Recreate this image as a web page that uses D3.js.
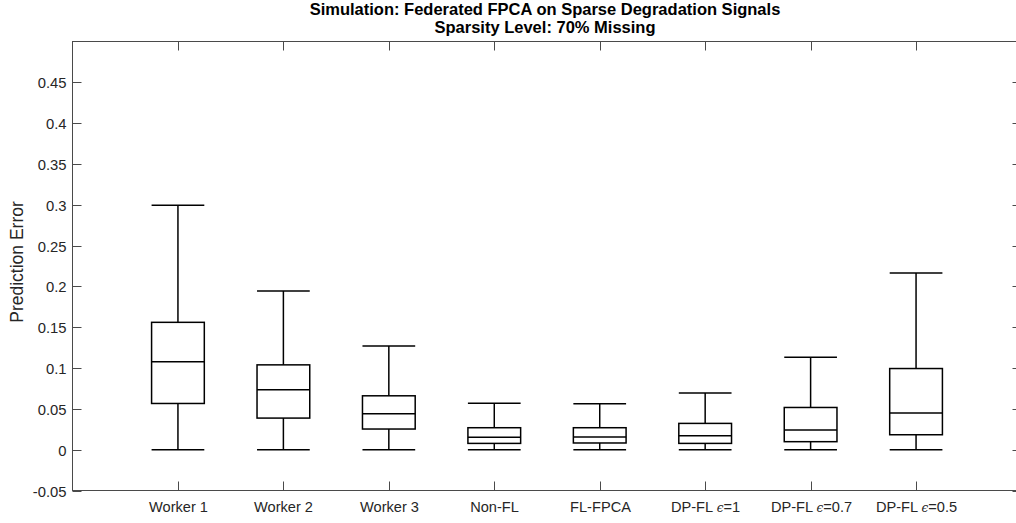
<!DOCTYPE html>
<html>
<head>
<meta charset="utf-8">
<script src="https://cdn.jsdelivr.net/npm/d3@7"></script>
<style>
  html, body { margin: 0; padding: 0; background: #fff; }
  svg { display: block; }
  text { font-family: "Liberation Sans", Arial, Helvetica, sans-serif; fill: #262626; }
</style>
</head>
<body>
<svg id="chart" width="1016" height="523"></svg>
<script>
// ---- data ----
const titleLines = ["Simulation: Federated FPCA on Sparse Degradation Signals", "Sparsity Level: 70% Missing"];
const yLabel = "Prediction Error";
const categories = ["Worker 1", "Worker 2", "Worker 3", "Non-FL", "FL-FPCA", "DP-FL ϵ=1", "DP-FL ϵ=0.7", "DP-FL ϵ=0.5"];
const whiskerLow  = [0, 0, 0, 0, 0, 0, 0, 0];
const q1          = [0.0566, 0.0387, 0.0253, 0.0077, 0.0082, 0.0077, 0.0098, 0.0183];
const median      = [0.1076, 0.0733, 0.0440, 0.0152, 0.0155, 0.0171, 0.0240, 0.0448];
const q3          = [0.1560, 0.1039, 0.0660, 0.0269, 0.0269, 0.0322, 0.0517, 0.0994];
const whiskerHigh = [0.2995, 0.1944, 0.1270, 0.0570, 0.0562, 0.0693, 0.1133, 0.2164];
const yTicks = [-0.05, 0, 0.05, 0.1, 0.15, 0.2, 0.25, 0.3, 0.35, 0.4, 0.45];
const yDomain = [-0.05, 0.5];

(function () {
// ---- layout ----
const svg = d3.select("#chart");
const pL = 72.5, pR = 1021.5, pT = 41.5, pB = 490.5;
const x = d3.scaleLinear().domain([0, categories.length + 1]).range([pL, pR]);
const y = d3.scaleLinear().domain(yDomain).range([pB, pT]);
const boxHalf = (x(1) - x(0)) * 0.25;
const tickLen = 9;
const axisColor = "#4a4a4a";

svg.append("rect").attr("width", 1016).attr("height", 523).attr("fill", "#fff");

// frame
svg.append("rect")
  .attr("x", pL).attr("y", pT)
  .attr("width", pR - pL).attr("height", pB - pT)
  .attr("fill", "none").attr("stroke", axisColor).attr("stroke-width", 1);

// y ticks (left & right)
const g = svg.append("g");
yTicks.forEach(t => {
  const yy = Math.round(y(t)) + 0.5;
  g.append("line").attr("x1", pL).attr("x2", pL + tickLen).attr("y1", yy).attr("y2", yy)
    .attr("stroke", axisColor).attr("stroke-width", 1);
  g.append("line").attr("x1", pR).attr("x2", pR - tickLen).attr("y1", yy).attr("y2", yy)
    .attr("stroke", axisColor).attr("stroke-width", 1);
  g.append("text")
    .attr("x", pL - 6).attr("y", yy).attr("dy", "0.36em")
    .attr("text-anchor", "end").attr("font-size", "14.8px")
    .text(t === 0 ? "0" : String(+t.toFixed(2)));
});

// x ticks (bottom & top)
categories.forEach((c, i) => {
  const xx = Math.round(x(i + 1)) + 0.5;
  g.append("line").attr("x1", xx).attr("x2", xx).attr("y1", pB).attr("y2", pB - tickLen)
    .attr("stroke", axisColor).attr("stroke-width", 1);
  g.append("line").attr("x1", xx).attr("x2", xx).attr("y1", pT).attr("y2", pT + tickLen)
    .attr("stroke", axisColor).attr("stroke-width", 1);
  const txt = g.append("text")
    .attr("x", xx).attr("y", 512)
    .attr("text-anchor", "middle").attr("font-size", "14.6px");
  const parts = c.split("ϵ");
  txt.append("tspan").text(parts[0]);
  if (parts.length > 1) {
    txt.append("tspan").attr("font-family", "'DejaVu Serif', serif").attr("font-style", "italic")
      .attr("font-size", "12px").text("ϵ");
    txt.append("tspan").text(parts[1]);
  }
});

// boxes
const bx = svg.append("g").attr("stroke", "#000").attr("stroke-width", 1.5).attr("fill", "none");
categories.forEach((c, i) => {
  const cx = x(i + 1);
  bx.append("line").attr("x1", cx).attr("x2", cx).attr("y1", y(q3[i])).attr("y2", y(whiskerHigh[i]));
  bx.append("line").attr("x1", cx).attr("x2", cx).attr("y1", y(q1[i])).attr("y2", y(whiskerLow[i]));
  bx.append("line").attr("x1", cx - boxHalf).attr("x2", cx + boxHalf).attr("y1", y(whiskerHigh[i])).attr("y2", y(whiskerHigh[i]));
  bx.append("line").attr("x1", cx - boxHalf).attr("x2", cx + boxHalf).attr("y1", y(whiskerLow[i])).attr("y2", y(whiskerLow[i]));
  bx.append("rect").attr("x", cx - boxHalf).attr("y", y(q3[i]))
    .attr("width", 2 * boxHalf).attr("height", y(q1[i]) - y(q3[i]));
  bx.append("line").attr("x1", cx - boxHalf).attr("x2", cx + boxHalf).attr("y1", y(median[i])).attr("y2", y(median[i]));
});

// y label
svg.append("text")
  .attr("transform", `translate(23, 262) rotate(-90)`)
  .attr("text-anchor", "middle").attr("font-size", "17.5px")
  .text(yLabel);

// title
titleLines.forEach((t, i) => {
  svg.append("text")
    .attr("x", 545).attr("y", 14.5 + i * 18)
    .attr("text-anchor", "middle").attr("font-size", "16.5px").attr("font-weight", "bold")
    .style("fill", "#000")
    .text(t);
});
})();
</script>
</body>
</html>
